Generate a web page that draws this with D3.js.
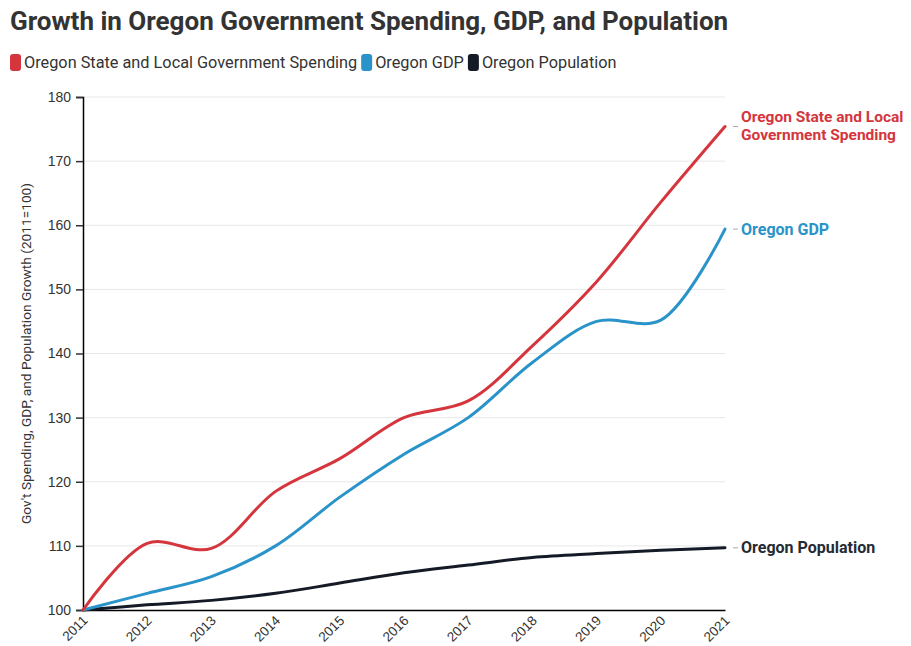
<!DOCTYPE html>
<html>
<head>
<meta charset="utf-8">
<script src="https://cdn.jsdelivr.net/npm/d3@7"></script>
<style>
  html, body { margin: 0; padding: 0; background: #fff; }
  svg { display: block; }
</style>
</head>
<body>
<svg id="chart" width="911" height="646"></svg>
<script>
// Index values, 2011 = 100
const years = [2011, 2012, 2013, 2014, 2015, 2016, 2017, 2018, 2019, 2020, 2021];
const spending = [100, 110.4, 109.6, 118.5, 123.6, 130.0, 132.6, 141.2, 151.2, 163.6, 175.4];
const gdp = [100, 102.6, 105.2, 110.0, 117.6, 124.3, 130.0, 138.6, 145.0, 145.2, 159.4];
const population = [100, 100.8, 101.5, 102.6, 104.2, 105.8, 107.0, 108.2, 108.8, 109.3, 109.7];
const yTicks = [100, 110, 120, 130, 140, 150, 160, 170, 180];

const seriesNames = ["Oregon State and Local Government Spending", "Oregon GDP", "Oregon Population"];
const seriesColors = ["#d5353d", "#2a93c9", "#141b26"];
const seriesValues = [spending, gdp, population];

const svg = d3.select("#chart");
const margin = { left: 83, right: 186, top: 97, bottom: 36 };
const W = 911, H = 646;

const x = d3.scaleLinear().domain([2011, 2021]).range([margin.left, W - margin.right]);
const y = d3.scaleLinear().domain([100, 180]).range([H - margin.bottom, margin.top]);

// Title
svg.append("text")
  .attr("x", 10).attr("y", 30)
  .attr("font-family", "Roboto, sans-serif")
  .attr("font-weight", 700)
  .attr("font-size", 26)
  .attr("fill", "#333")
  .text("Growth in Oregon Government Spending, GDP, and Population");

// Legend
const legend = svg.append("g").attr("font-family", "Roboto, sans-serif").attr("font-size", 16.3).attr("fill", "#333");
let lx = 10;
seriesNames.forEach((name, i) => {
  legend.append("rect")
    .attr("x", lx).attr("y", 54)
    .attr("width", 11).attr("height", 17)
    .attr("rx", 3)
    .attr("fill", seriesColors[i]);
  const t = legend.append("text")
    .attr("x", lx + 14).attr("y", 68)
    .text(name);
  lx += 14 + t.node().getComputedTextLength() + 4;
});

// Gridlines
svg.append("g")
  .selectAll("line")
  .data(yTicks.slice(1))
  .join("line")
  .attr("x1", x(2011)).attr("x2", x(2021))
  .attr("y1", d => y(d)).attr("y2", d => y(d))
  .attr("stroke", "#e8e8e8").attr("stroke-width", 1);

// Y axis
const yAxis = svg.append("g")
  .attr("transform", `translate(${x(2011)},0)`)
  .call(d3.axisLeft(y).tickValues(yTicks).tickSize(7).tickPadding(5));
yAxis.select(".domain").attr("stroke", "#000").attr("stroke-width", 1.5);
yAxis.selectAll(".tick line").attr("stroke", "#333").attr("stroke-width", 1.5);
yAxis.selectAll(".tick text")
  .attr("font-family", "'Liberation Sans', Arial, sans-serif")
  .attr("font-size", 14)
  .attr("fill", "#333");

// X axis with labels rotated 45 degrees, ending at each tick
const xAxis = svg.append("g")
  .attr("transform", `translate(0,${y(100)})`)
  .call(d3.axisBottom(x).tickValues(years).tickFormat(d3.format("d")).tickSize(0).tickPadding(0));
xAxis.select(".domain").attr("stroke", "#000").attr("stroke-width", 1.5);
xAxis.selectAll(".tick text")
  .attr("font-family", "'Liberation Sans', Arial, sans-serif")
  .attr("font-size", 13.5)
  .attr("fill", "#333")
  .attr("text-anchor", "end")
  .attr("y", 0)
  .attr("dx", -4.5)
  .attr("dy", 11.5)
  .attr("transform", "rotate(-45)");

// Y axis title
svg.append("text")
  .attr("transform", `translate(31,${(y(100) + y(180)) / 2}) rotate(-90)`)
  .attr("text-anchor", "middle")
  .attr("font-family", "Roboto, sans-serif")
  .attr("font-size", 13.7)
  .attr("fill", "#333")
  .text("Gov't Spending, GDP, and Population Growth (2011=100)");

// Lines
const line = d3.line()
  .x((d, i) => x(years[i]))
  .y(d => y(d))
  .curve(d3.curveCatmullRom.alpha(0.5));

const lines = svg.append("g");
[2, 1, 0].forEach(i => {
  lines.append("path")
    .attr("d", line(seriesValues[i]))
    .attr("fill", "none")
    .attr("stroke", seriesColors[i])
    .attr("stroke-width", 3)
    .attr("stroke-linecap", "round");
});

// End labels
const endLabels = [
  { i: 0, lines: ["Oregon State and Local", "Government Spending"], color: "#d5353d" },
  { i: 1, lines: ["Oregon GDP"], color: "#2a93c9" },
  { i: 2, lines: ["Oregon Population"], color: "#252a33" }
];
const lab = svg.append("g");
endLabels.forEach(l => {
  const vy = y(seriesValues[l.i][seriesValues[l.i].length - 1]);
  const multi = l.lines.length > 1;
  lab.append("line")
    .attr("x1", x(2021) + 8).attr("x2", x(2021) + 13)
    .attr("y1", vy).attr("y2", vy)
    .attr("stroke", "#aaa").attr("stroke-width", 1);
  const first = multi ? vy - 4 : vy + 5.5;
  l.lines.forEach((s, k) => {
    lab.append("text")
      .attr("x", x(2021) + 16)
      .attr("y", first + k * 18)
      .attr("font-family", "Roboto, sans-serif")
      .attr("font-weight", 700)
      .attr("font-size", multi ? 15.5 : 16)
      .attr("fill", l.color)
      .text(s);
  });
});
</script>
</body>
</html>
